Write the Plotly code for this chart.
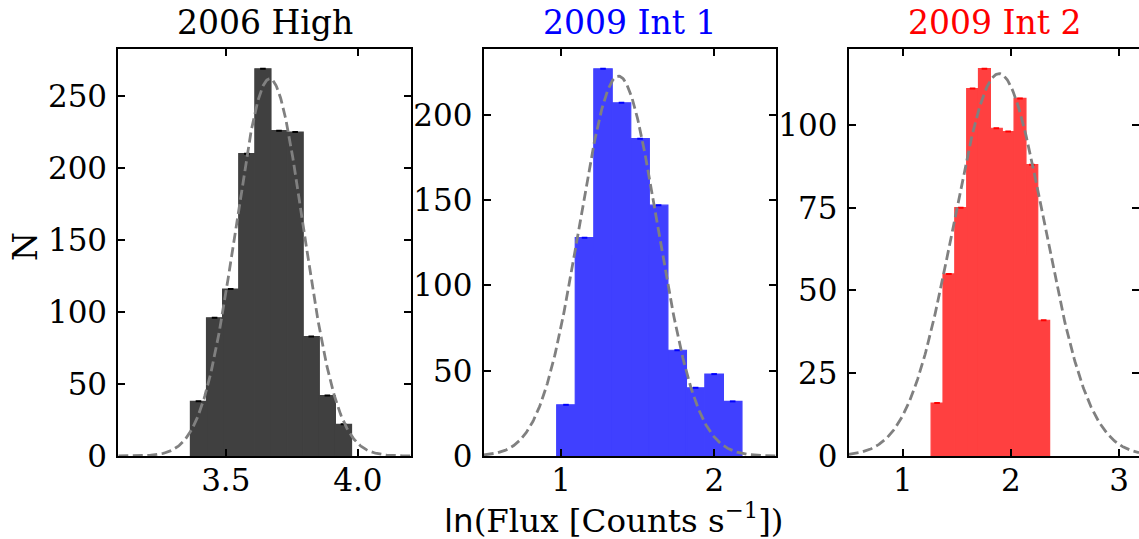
import numpy as np
import plotly.graph_objects as go

# ---------------- data ----------------
titles = ["2006 High", "2009 Int 1", "2009 Int 2"]
title_colors = ["#000000", "#0000ff", "#ff0000"]
bar_colors = ["#404040", "#4040ff", "#ff4040"]
err_colors = ["#000000", "#0000ff", "#ff0000"]

edges_high = [3.366, 3.427, 3.488, 3.549, 3.610, 3.671, 3.732, 3.793, 3.854, 3.915, 3.976]
counts_high = [38, 96, 116, 210, 269, 226, 225, 83, 42, 22]

edges_int1 = [0.972, 1.093, 1.214, 1.334, 1.455, 1.576, 1.697, 1.818, 1.938, 2.059, 2.180]
counts_int1 = [30, 128, 227, 207, 186, 147, 62, 40, 48, 32]

edges_int2 = [1.262, 1.372, 1.481, 1.591, 1.700, 1.810, 1.920, 2.029, 2.139, 2.248, 2.358]
counts_int2 = [16, 55, 75, 111, 117, 99, 98, 108, 88, 41]

# Gaussian fit parameters (amplitude, mean, sigma)
fit_high = [262.0, 3.666, 0.128]
fit_int1 = [222.7, 1.375, 0.255]
fit_int2 = [115.5, 1.89, 0.42]

xticks_high = [3.5, 4.0]
xticks_int1 = [1, 2]
xticks_int2 = [1, 2, 3]
yticks_high = [0, 50, 100, 150, 200, 250]
yticks_int1 = [0, 50, 100, 150, 200]
yticks_int2 = [0, 25, 50, 75, 100]

x_label = "<span style='font-family:DejaVu Sans'>ln</span>(Flux [Counts s<sup>\u22121</sup>])"
y_label = "N"

# ---------------- layout geometry ----------------
W, H = 1139, 539
SERIF = "DejaVu Serif, Liberation Serif, serif"
FS_TICK = 31
FS_TEXT = 33
FS_XLABEL = 32.5


def fx(px):
    return px / W


def fy(py):
    return 1 - py / H


x_domains = [[fx(118.3), fx(410.7)], [fx(483.7), fx(775.7)], [fx(848.7), 1.0]]
y_domain = [fy(456), fy(49.3)]
x_ranges = [[3.093, 4.20], [0.496, 2.40], [0.5, 3.2 - (1140.7 - 1139) / 108.0]]
y_ranges = [[0, 282.5], [0, 238.4], [0, 122.85]]
x_fmt = [".1f", "d", "d"]
title_x = [264.5, 629.7, 994.7]

edges_all = [edges_high, edges_int1, edges_int2]
counts_all = [counts_high, counts_int1, counts_int2]
fits_all = [fit_high, fit_int1, fit_int2]
xticks_all = [xticks_high, xticks_int1, xticks_int2]
yticks_all = [yticks_high, yticks_int1, yticks_int2]

fig = go.Figure()

for i in range(3):
    e = np.array(edges_all[i])
    c = np.array(counts_all[i])
    centers = (e[:-1] + e[1:]) / 2
    widths = np.diff(e)
    ax = "" if i == 0 else str(i + 1)
    xa, ya = "x" + ax, "y" + ax
    fig.add_trace(go.Bar(x=centers, y=c, width=widths,
                         marker=dict(color=bar_colors[i], line=dict(width=1.2, color=bar_colors[i])),
                         xaxis=xa, yaxis=ya, showlegend=False))
    fig.add_trace(go.Scatter(x=centers, y=c, mode="markers",
                             marker=dict(symbol="line-ew", size=4, line=dict(width=2, color=err_colors[i])),
                             xaxis=xa, yaxis=ya, showlegend=False))
    A, mu, sig = fits_all[i]
    xs = np.linspace(x_ranges[i][0], x_ranges[i][1], 400)
    ys = A * np.exp(-(xs - mu) ** 2 / (2 * sig ** 2))
    fig.add_trace(go.Scatter(x=xs, y=ys, mode="lines",
                             line=dict(color="#808080", width=2.8, dash="10px,4.5px"),
                             xaxis=xa, yaxis=ya, showlegend=False))

    common = dict(showline=True, linewidth=2, linecolor="black", mirror="ticks", ticks="inside",
                  ticklen=7, tickwidth=1.5, tickcolor="black", showgrid=False, zeroline=False,
                  automargin=False, tickfont=dict(family=SERIF, size=FS_TICK, color="black"))
    fig.update_layout(**{
        "xaxis" + ax: dict(domain=x_domains[i], range=x_ranges[i], tickvals=xticks_all[i],
                           tickformat=x_fmt[i], anchor=ya, ticklabelstandoff=-4, **common),
        "yaxis" + ax: dict(domain=y_domain, range=y_ranges[i], tickvals=yticks_all[i],
                           anchor=xa, ticklabelstandoff=3, **common),
    })
    fig.add_annotation(text=titles[i], xref="paper", yref="paper",
                       x=fx(title_x[i]), y=fy(23), xanchor="center", yanchor="middle",
                       showarrow=False, font=dict(family=SERIF, size=FS_TEXT, color=title_colors[i]))

fig.add_annotation(text=y_label, xref="paper", yref="paper", x=fx(25), y=fy(247),
                   xanchor="center", yanchor="middle", textangle=-90, showarrow=False,
                   font=dict(family=SERIF, size=FS_TEXT, color="black"))
fig.add_annotation(text=x_label, xref="paper", yref="paper", x=fx(614), y=fy(518),
                   xanchor="center", yanchor="middle", showarrow=False,
                   font=dict(family=SERIF, size=FS_XLABEL, color="black"))

fig.update_layout(width=W, height=H, margin=dict(l=0, r=0, t=0, b=0, autoexpand=False),
                  paper_bgcolor="white", plot_bgcolor="white", barmode="overlay")

# remove the browser's default 8px body margin so the figure sits at the page origin
fig.write_html("out.html", config={"displayModeBar": False},
               post_script="document.body.style.margin='0';document.body.style.overflow='hidden';")
